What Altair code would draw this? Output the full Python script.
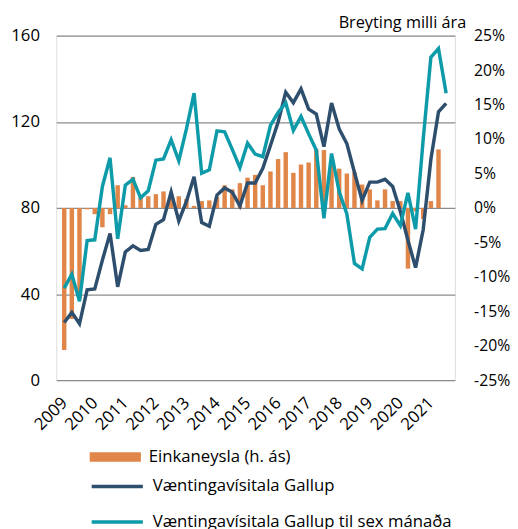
import altair as alt
import pandas as pd

years = [str(y) for y in range(2009, 2022)]

# Einkaneysla, breyting milli ára (%), 2009Q1-2021Q2
consumption = [-20.6, -16.1, -13.2, -0.2, -0.9, -2.8, -0.9, 3.3, 0.4, 4.5,
               1.6, 1.7, 2.0, 2.4, 1.8, 1.7, 1.3, 0.3, 1.0, 1.1,
               1.6, 3.3, 2.7, 3.6, 4.4, 4.8, 3.3, 5.3, 7.1, 8.1,
               5.1, 6.3, 6.6, 8.6, 8.4, 6.5, 5.7, 5.0, 5.2, 3.4,
               2.7, 1.1, 2.7, 1.0, 1.0, -8.8, -0.5, -1.6, 1.0, 8.5]

# Væntingavísitala Gallup, 2009Q1-2021Q3
gallup = [26.8, 31.5, 26.2, 42.0, 42.4, 55.8, 68.2, 43.4, 59.6, 62.4,
          60.3, 60.7, 72.4, 74.6, 87.5, 74.0, 83.0, 94.5, 73.2, 71.5,
          86.0, 89.3, 87.3, 80.9, 91.6, 91.6, 98.4, 109.0, 119.8, 133.8,
          128.9, 135.3, 125.9, 123.6, 108.5, 128.7, 116.7, 109.9, 96.5, 83.5,
          92.0, 92.0, 93.3, 90.0, 78.5, 65.0, 52.3, 70.0, 102.5, 124.7,
          128.6]

# Væntingavísitala Gallup til sex mánaða
gallup6 = [42.8, 49.2, 36.7, 64.9, 65.2, 90.0, 103.3, 65.7, 90.6, 93.3,
           84.7, 88.0, 102.2, 102.8, 111.6, 101.9, 116.7, 133.3, 96.1, 97.7,
           115.8, 115.4, 107.2, 98.7, 110.1, 105.0, 103.8, 118.3, 124.3, 128.9,
           116.0, 122.5, 114.4, 106.8, 75.2, 105.3, 87.5, 77.2, 54.2, 51.7,
           66.4, 70.2, 70.4, 77.4, 71.8, 87.0, 70.2, 112.0, 150.0, 154.0,
           133.3]

bar_name = "Einkaneysla (h. ás)"
line_names = ["Væntingavísitala Gallup", "Væntingavísitala Gallup til sex mánaða"]

ORANGE = "#E08648"
NAVY = "#2E4E6E"
TEAL = "#0E9BA9"
FONT = "Open Sans"
TXT = "#000000"
FS = 17

bars_df = pd.DataFrame({
    "q": list(range(len(consumption))),
    "value": consumption,
    "series": [bar_name] * len(consumption),
})
lines_df = pd.DataFrame({
    "q": list(range(len(gallup))) + list(range(len(gallup6))),
    "value": gallup + gallup6,
    "series": [line_names[0]] * len(gallup) + [line_names[1]] * len(gallup6),
})

xscale = alt.Scale(domain=[-0.4, 50.5], nice=False, zero=False)
year_arr = "[" + ",".join("'" + y + "'" for y in years) + "]"
xaxis = alt.Axis(
    values=[4 * k for k in range(len(years))],
    labelExpr=year_arr + "[datum.value / 4]",
    labelAngle=-45, labelAlign="right", labelBaseline="middle",
    labelPadding=20, labelOverlap=False, labelFlush=False,
    ticks=False, domain=False, grid=False, title=None,
    labelFont=FONT, labelFontSize=FS, labelColor=TXT,
)

bars = alt.Chart(bars_df).mark_bar(size=4.5).encode(
    x=alt.X("q:Q", scale=xscale, axis=xaxis),
    y=alt.Y("value:Q",
            scale=alt.Scale(domain=[-25, 25], nice=False),
            axis=alt.Axis(orient="right", values=list(range(-25, 30, 5)),
                          labelExpr="datum.value + '%'",
                          ticks=False, domain=False, grid=False,
                          labelPadding=19, labelFont=FONT, labelFontSize=16,
                          labelColor=TXT, labelLimit=300,
                          title="Breyting milli ára", titleAngle=0,
                          titleAlign="right", titleBaseline="alphabetic",
                          titleX=11, titleY=-8, titleFont=FONT,
                          titleFontSize=16.5, titleFontWeight="normal",
                          titleColor=TXT)),
    fill=alt.Fill("series:N",
                  scale=alt.Scale(domain=[bar_name], range=[ORANGE]),
                  legend=alt.Legend(orient="none", legendX=34, legendY=402,
                                    title=None, padding=0,
                                    symbolType="M-1,-0.19H1V0.19H-1Z",
                                    symbolSize=2704, symbolStrokeWidth=0,
                                    labelFont=FONT, labelFontSize=FS,
                                    labelColor=TXT, labelOffset=8,
                                    labelLimit=500)),
)

lines = alt.Chart(lines_df).mark_line(strokeWidth=3.5).encode(
    x=alt.X("q:Q", scale=xscale, axis=xaxis),
    y=alt.Y("value:Q",
            scale=alt.Scale(domain=[0, 160], nice=False),
            axis=alt.Axis(orient="left", values=[0, 40, 80, 120, 160],
                          ticks=False, domain=False, grid=True,
                          gridColor="#8c8c8c", gridWidth=1.3,
                          labelPadding=17, labelFont=FONT, labelFontSize=FS,
                          labelColor=TXT, title=None)),
    stroke=alt.Stroke("series:N",
                      scale=alt.Scale(domain=line_names, range=[NAVY, TEAL]),
                      legend=alt.Legend(orient="none", legendX=34, legendY=430,
                                        title=None, padding=0,
                                        symbolType="stroke", symbolSize=2704,
                                        symbolStrokeWidth=3.5, rowPadding=-25,
                                        labelFont=FONT, labelFontSize=FS,
                                        labelColor=TXT, labelOffset=8,
                                        labelLimit=500)),
    order="q:Q",
)

chart = alt.layer(bars, lines).resolve_scale(y="independent").properties(
    width=405, height=350,
    autosize=alt.AutoSizeParams(type="none"),
    padding={"left": 49, "top": 24, "right": 56, "bottom": 147},
).configure_view(stroke=None).configure(background="white")

chart.save("out.html", embed_options={"renderer": "svg", "actions": False})
